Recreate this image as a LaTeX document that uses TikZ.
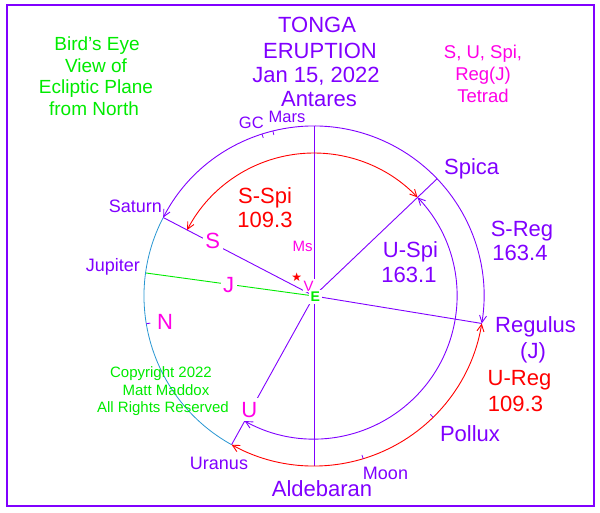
\documentclass[tikz,border=0pt]{standalone}
\usepackage{fontspec}
\setmainfont{Liberation Sans}
\newfontfamily\djv{DejaVu Sans}
\usetikzlibrary{arrows.meta,calc}
\definecolor{vio}{RGB}{128,0,255}
\definecolor{mag}{RGB}{255,0,230}
\definecolor{grn}{RGB}{0,235,0}
\definecolor{sky}{RGB}{40,150,210}
\definecolor{rd}{RGB}{255,0,0}
\begin{document}
\begin{tikzpicture}[x=1pt,y=-1pt,
  lab/.style={inner sep=0pt, text depth=0pt},
  fA/.style={lab, font=\fontsize{22}{24}\selectfont, text height=15.75pt},
  fB/.style={lab, font=\fontsize{19}{21}\selectfont, text height=13.6pt},
  fC/.style={lab, font=\fontsize{18.5}{20}\selectfont, text height=13.25pt},
  fD/.style={lab, font=\fontsize{18}{20}\selectfont, text height=12.9pt},
  fE/.style={lab, font=\fontsize{16.5}{18}\selectfont, text height=11.8pt},
  fF/.style={lab, font=\fontsize{15}{17}\selectfont, text height=10.75pt},
  gap/.style={fill=white, inner sep=2.5pt},
  ln/.style={line width=0.9pt},
  dbl/.style={ln, {Straight Barb[length=7pt,width=7pt]}-{Straight Barb[length=7pt,width=7pt]}},
  tk/.style={line width=0.8pt}]
\useasboundingbox (0,0) rectangle (600,512);
\draw[vio, line width=1.3pt] (7,5) rectangle (594,506);

% geometry
\coordinate (C) at (314,296);
\coordinate (sat) at ($(C)+(207.5:170)$);
\coordinate (jup) at ($(C)+(187.8:170)$);
\coordinate (spi) at ($(C)+(-43.6:170)$);
\coordinate (reg) at ($(C)+(9.3:170)$);
\coordinate (ura) at ($(C)+(119:170)$);
\coordinate (ant) at ($(C)+(270:170)$);
\coordinate (ald) at ($(C)+(90:170)$);
\coordinate (satI) at ($(C)+(207.5:143)$);
\coordinate (spiI) at ($(C)+(-43.6:143)$);

% radial lines
\draw[vio, ln] (ant) -- (ald);
\draw[vio, ln] (C) -- (sat);
\draw[grn, ln] (C) -- (jup);
\draw[vio, ln] (C) -- (spi);
\draw[vio, ln] (C) -- (reg);
\draw[vio, ln] (C) -- (ura);

% outer circle arcs
\draw[sky, line width=0.8pt] (ura) arc[start angle=119, end angle=207.5, radius=170];
\draw[vio, dbl] (sat) arc[start angle=207.5, end angle=369.3, radius=170];
\draw[rd, dbl] (reg) arc[start angle=9.3, end angle=119, radius=170];
% inner arcs
\draw[rd, dbl] (satI) arc[start angle=207.5, end angle=316.4, radius=143];
\draw[vio, dbl] (spiI) arc[start angle=-43.6, end angle=119, radius=143];

% small ticks
\draw[vio, tk] ($(C)+(252.2:170)$) -- ($(C)+(252.2:166)$);
\draw[vio, tk] ($(C)+(256:170)$) -- ($(C)+(256:166)$);
\draw[vio, tk] ($(C)+(73.2:170)$) -- ($(C)+(73.2:166)$);
\draw[vio, tk] ($(C)+(45.5:170)$) -- ($(C)+(45.5:166)$);
\draw[vio, tk] ($(C)+(170.6:170)$) -- ($(C)+(170.6:166)$);

% labels on lines (break the lines)
\node[fA, mag, gap] (lS) at (212.7,241) {S};
\node[fA, mag, gap] (lJ) at (228.5,284.7) {J};
\node[fA, mag, gap, inner sep=4pt] (lU) at (249.3,409.5) {U};
\node[fF, mag, fill=white, inner sep=1pt] (lV) at (308.5,285.7) {V};
\node[lab, grn, fill=white, inner sep=2pt, font=\fontsize{14}{16}\selectfont\bfseries, text height=10pt] (lE) at (315.3,296.7) {E};
\node[rd, inner sep=0pt, font=\djv\fontsize{12}{12}\selectfont] (star) at (296.7,277) {★};
\node[fF, mag] (lMs) at (302.5,246) {Ms};
\node[fA, mag] (lN) at (165,321.5) {N};

% title
\node[fA, vio] (t1) at (317,25) {TONGA};
\node[fA, vio] (t2) at (320,50.5) {ERUPTION};
\node[fA, vio] (t3) at (316,75) {Jan 15, 2022};
\node[fA, vio] (t4) at (319,99) {Antares};

% left heading
\node[fB, grn] (b1) at (97,43.5) {Bird's Eye};
\node[fB, grn] (b2) at (96,65.5) {View of};
\node[fB, grn] (b3) at (96,87) {Ecliptic Plane};
\node[fB, grn] (b4) at (94,108.5) {from North};

% right heading
\node[fC, mag] (r1) at (483,52) {S, U, Spi,};
\node[fC, mag] (r2) at (483,74) {Reg(J)};
\node[fC, mag] (r3) at (483,95.5) {Tetrad};

% star names
\node[fE, vio] (gc) at (251.3,122.5) {GC};
\node[fE, vio] (mars) at (287,116.5) {Mars};
\node[fD, vio, anchor=east] (saturn) at (162,206.5) {Saturn};
\node[fD, vio, anchor=east] (jupiter) at (140,265.5) {Jupiter};
\node[fD, vio] (uranus) at (219,463) {Uranus};
\node[fD, vio] (moon) at (385.5,473) {Moon};
\node[fA, vio] (aldebaran) at (322,489) {Aldebaran};
\node[fA, vio] (pollux) at (470,433.5) {Pollux};
\node[fA, vio, anchor=west] (spica) at (444,166.5) {Spica};
\node[fA, vio, anchor=west] (regulus) at (495,325) {Regulus};
\node[fA, vio] (regJ) at (533,351) {(J)};

% arc measures
\node[fA, rd] (ss1) at (265,196) {S-Spi};
\node[fA, rd] (ss2) at (265,220) {109.3};
\node[fA, vio] (sr1) at (522,228.5) {S-Reg};
\node[fA, vio] (sr2) at (520,252.5) {163.4};
\node[fA, vio] (us1) at (410.5,250) {U-Spi};
\node[fA, vio] (us2) at (409,275) {163.1};
\node[fA, rd] (ur1) at (519.5,377.5) {U-Reg};
\node[fA, rd] (ur2) at (515.5,403.5) {109.3};

% copyright
\node[fF, grn] (c1) at (161,372.5) {Copyright 2022};
\node[fF, grn] (c2) at (166,390.5) {Matt Maddox};
\node[fF, grn] (c3) at (163,407) {All Rights Reserved};
\end{tikzpicture}
\end{document}
